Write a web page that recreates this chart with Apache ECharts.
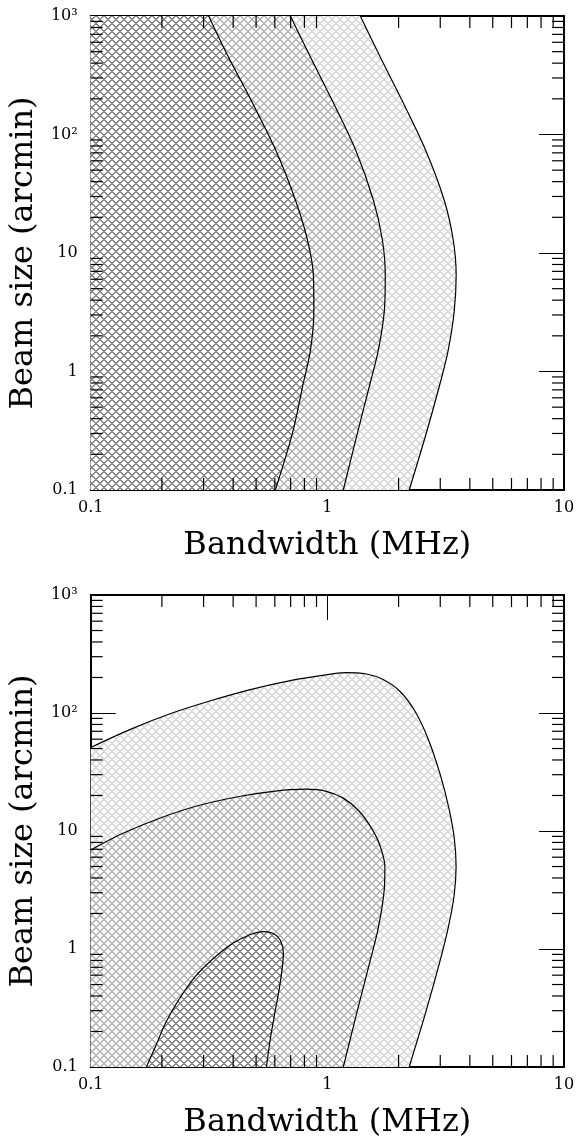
<!DOCTYPE html>
<html>
<head>
    <title>beam size vs bandwidth</title>
    <meta charset="utf-8"/>
    <script type="text/javascript" src="https://cdn.jsdelivr.net/npm/echarts@6/dist/echarts.min.js"></script>
    <style>
        html, body { margin: 0; padding: 0; background: #fff; }
        #chart { width: 586px; height: 1140px; }
    </style>
</head>
<body>
<div id="chart"></div>
<script type="text/javascript">
// tick labels and tick positions
var xTickLabels = ['0.1', '1', '10'];
var yTickLabels = ['0.1', '1', '10', '10²', '10³'];
var minorSteps = [2, 3, 4, 5, 6, 7, 8, 9];
var xDecades = [0.1, 1];
var yDecades = [0.1, 1, 10, 100];

// top panel: three contours, bandwidth read at shared beam sizes
var topBeam = [1000, 450, 200, 75, 28, 13, 6.5, 3.2, 1.5, 0.8, 0.3, 0.1];
var topBw1 = [0.315, 0.382, 0.473, 0.603, 0.733, 0.823, 0.873, 0.877, 0.848, 0.792, 0.712, 0.603];
var topBw2 = [0.698, 0.848, 1.040, 1.313, 1.564, 1.707, 1.757, 1.740, 1.641, 1.518, 1.339, 1.168];
var topBw3 = [1.378, 1.673, 2.052, 2.592, 3.116, 3.401, 3.502, 3.435, 3.239, 2.998, 2.617, 2.218];

// bottom panel: three closed contours
var botOuterBw = [0.1, 0.148, 0.218, 0.321, 0.473, 0.698, 0.934, 1.19, 1.45, 1.72, 2.03, 2.35, 2.67, 3.0, 3.27, 3.44, 3.50, 3.43, 3.239, 2.998, 2.617, 2.218];
var botOuterBeam = [51, 73, 99, 127, 158, 188, 207, 220, 215, 192, 152, 103, 60, 30, 15.3, 8.6, 5.0, 2.8, 1.5, 0.8, 0.3, 0.1];
var botMidBw = [0.1, 0.134, 0.197, 0.291, 0.43, 0.603, 0.808, 0.981, 1.168, 1.351, 1.518, 1.658, 1.75, 1.74, 1.641, 1.518, 1.339, 1.168];
var botMidBeam = [6.9, 9.4, 12.9, 16.6, 19.7, 21.8, 22.6, 21.8, 19.0, 15.0, 11.0, 7.8, 5.0, 3.2, 1.5, 0.8, 0.3, 0.1];
var botInnerBw = [0.172, 0.188, 0.207, 0.235, 0.277, 0.330, 0.397, 0.473, 0.537, 0.592, 0.634, 0.652, 0.646, 0.627, 0.603, 0.575, 0.553];
var botInnerBeam = [0.1, 0.15, 0.235, 0.368, 0.586, 0.831, 1.113, 1.326, 1.405, 1.351, 1.18, 0.916, 0.712, 0.464, 0.303, 0.176, 0.1];

var FONT = 'DejaVu Serif';
var X_MIN = 0.1, X_MAX = 10, Y_MIN = 0.1, Y_MAX = 1000;

// cross hatch tile, white background so layers replace each other
function hatch(color) {
    var c = document.createElement('canvas');
    c.width = 8; c.height = 8;
    var ctx = c.getContext('2d');
    ctx.fillStyle = '#fff';
    ctx.fillRect(0, 0, 8, 8);
    ctx.fillStyle = color;
    for (var i = 0; i < 8; i++) {
        ctx.fillRect(i, i, 1, 1);
        ctx.fillRect((i + 1) % 8, i, 1, 1);
        ctx.fillRect(7 - i, i, 1, 1);
        ctx.fillRect((14 - i) % 8, i, 1, 1);
    }
    return { image: c, repeat: 'repeat' };
}
var hatchLight = hatch('#d6d6d6');
var hatchMid = hatch('#b4b4b4');
var hatchDark = hatch('#8a8a8a');

function pairs(bw, beam) {
    return bw.map(function (b, i) { return [b, beam[i]]; });
}

function region(g, bw, beam, fill) {
    return {
        type: 'custom',
        xAxisIndex: g * 2, yAxisIndex: g * 2,
        data: [[bw[0], beam[0]]],
        silent: true, z: 1,
        renderItem: function (params, api) {
            var pts = bw.map(function (b, i) { return api.coord([b, beam[i]]); });
            return { type: 'polygon', shape: { points: pts }, style: { fill: fill, stroke: null } };
        }
    };
}

function curve(g, bw, beam) {
    return {
        type: 'line',
        xAxisIndex: g * 2, yAxisIndex: g * 2,
        data: pairs(bw, beam),
        showSymbol: false, smooth: 0.3, silent: true, z: 5,
        lineStyle: { color: '#000', width: 1.2 }
    };
}

// minor ticks on all four sides
function minorTicks(g) {
    return {
        type: 'custom',
        xAxisIndex: g * 2, yAxisIndex: g * 2,
        data: [[X_MIN, Y_MIN]],
        silent: true, z: 6,
        renderItem: function (params, api) {
            var kids = [];
            function seg(x1, y1, x2, y2) {
                kids.push({ type: 'line', shape: { x1: x1, y1: y1, x2: x2, y2: y2 },
                    style: { stroke: '#000', lineWidth: 1.2 } });
            }
            xDecades.forEach(function (d) {
                minorSteps.forEach(function (m) {
                    var b = api.coord([d * m, Y_MIN]), t = api.coord([d * m, Y_MAX]);
                    seg(b[0], b[1], b[0], b[1] - 12);
                    seg(t[0], t[1], t[0], t[1] + 12);
                });
            });
            yDecades.forEach(function (d) {
                minorSteps.forEach(function (m) {
                    var l = api.coord([X_MIN, d * m]), r = api.coord([X_MAX, d * m]);
                    seg(l[0], l[1], l[0] + 12, l[1]);
                    seg(r[0], r[1], r[0] - 12, r[1]);
                });
            });
            return { type: 'group', children: kids };
        }
    };
}

function xAxes(g) {
    var base = {
        type: 'log', logBase: 10, gridIndex: g, min: X_MIN, max: X_MAX, splitNumber: 2,
        axisLine: { onZero: false, lineStyle: { color: '#000', width: 2 } },
        axisTick: { inside: true, length: 25, lineStyle: { color: '#000', width: 1 } },
        splitLine: { show: false }
    };
    var main = Object.assign({}, base, {
        position: 'bottom',
        axisLabel: {
            color: '#000', fontFamily: FONT, fontSize: 16, margin: 10, hideOverlap: false,
            showMinLabel: true, showMaxLabel: true,
            formatter: function (v) { return xTickLabels[Math.round(Math.log10(v)) + 1]; }
        },
        name: 'Bandwidth (MHz)', nameLocation: 'middle', nameGap: 40,
        nameTextStyle: { color: '#000', fontFamily: FONT, fontSize: 32 }
    });
    var mirror = Object.assign({}, base, { position: 'top', axisLabel: { show: false } });
    return [main, mirror];
}

function yAxes(g) {
    var base = {
        type: 'log', logBase: 10, gridIndex: g, min: Y_MIN, max: Y_MAX, splitNumber: 4,
        axisLine: { onZero: false, lineStyle: { color: '#000', width: 2 } },
        axisTick: { inside: true, length: 25, lineStyle: { color: '#000', width: 1 } },
        splitLine: { show: false }
    };
    var main = Object.assign({}, base, {
        position: 'left',
        axisLabel: {
            color: '#000', fontFamily: FONT, fontSize: 16, margin: 13, hideOverlap: false,
            showMinLabel: true, showMaxLabel: true,
            formatter: function (v) { return yTickLabels[Math.round(Math.log10(v)) + 1]; }
        },
        name: 'Beam size (arcmin)', nameLocation: 'middle', nameGap: 46,
        nameTextStyle: { color: '#000', fontFamily: FONT, fontSize: 32 }
    });
    var mirror = Object.assign({}, base, { position: 'right', axisLabel: { show: false } });
    return [main, mirror];
}

var chart = echarts.init(document.getElementById('chart'));
chart.setOption({
    animation: false,
    backgroundColor: '#fff',
    grid: [
        { left: 90, top: 16, width: 474, height: 474 },
        { left: 90, top: 595, width: 474, height: 474 }
    ],
    xAxis: xAxes(0).concat(xAxes(1)),
    yAxis: yAxes(0).concat(yAxes(1)),
    series: [
        region(0, [X_MIN].concat(topBw3, [X_MIN]), [Y_MAX].concat(topBeam, [Y_MIN]), hatchLight),
        region(0, [X_MIN].concat(topBw2, [X_MIN]), [Y_MAX].concat(topBeam, [Y_MIN]), hatchMid),
        region(0, [X_MIN].concat(topBw1, [X_MIN]), [Y_MAX].concat(topBeam, [Y_MIN]), hatchDark),
        curve(0, topBw1, topBeam),
        curve(0, topBw2, topBeam),
        curve(0, topBw3, topBeam),
        minorTicks(0),
        region(1, botOuterBw.concat([X_MIN]), botOuterBeam.concat([Y_MIN]), hatchLight),
        region(1, botMidBw.concat([X_MIN]), botMidBeam.concat([Y_MIN]), hatchMid),
        region(1, botInnerBw, botInnerBeam, hatchDark),
        curve(1, botOuterBw, botOuterBeam),
        curve(1, botMidBw, botMidBeam),
        curve(1, botInnerBw, botInnerBeam),
        minorTicks(1)
    ]
});
</script>
</body>
</html>
